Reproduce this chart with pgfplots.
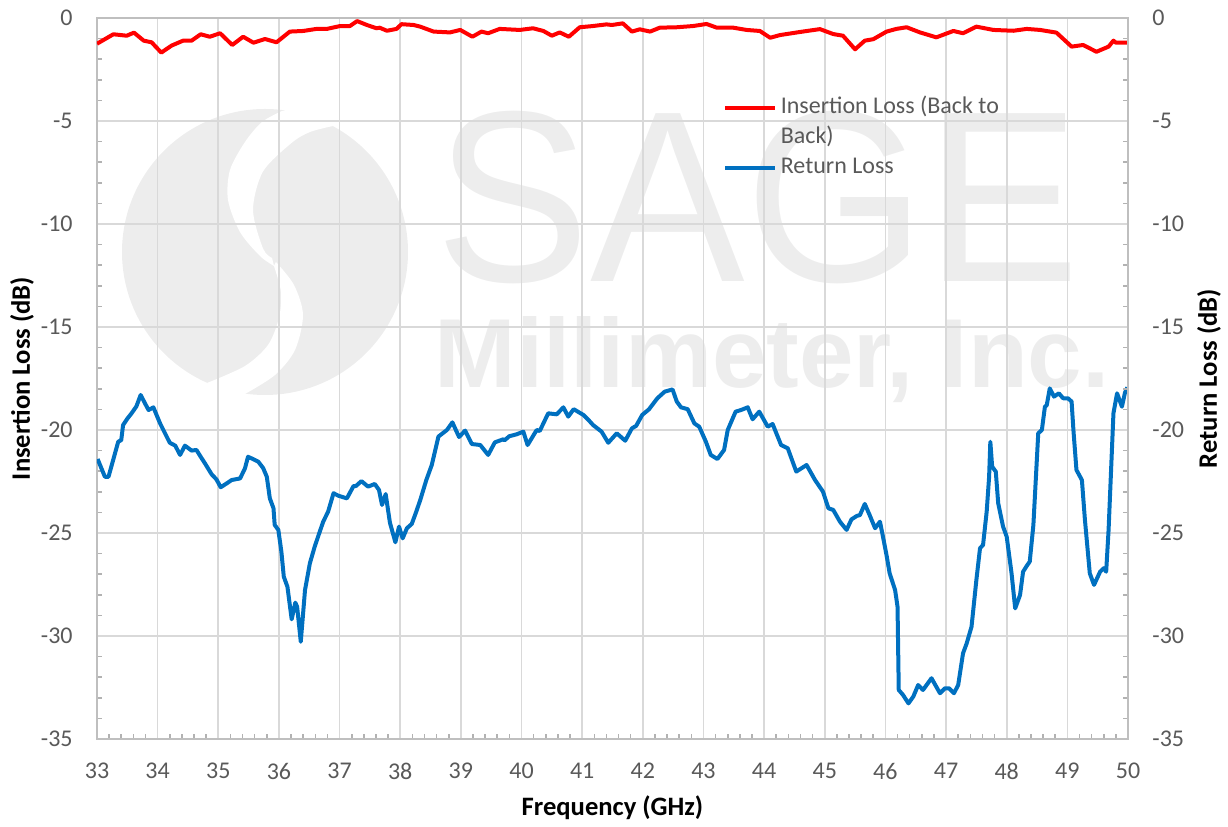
\documentclass[border=0pt]{standalone}
\usepackage{pgfplots}
\pgfplotsset{compat=1.18}
\usepackage{pgfplotstable}
\usepackage{fontspec}
\setmainfont{Carlito}
\newfontfamily\wmfont{Liberation Sans}
\definecolor{ilred}{HTML}{FF0000}
\definecolor{rlblue}{HTML}{0070C0}
\definecolor{tickgray}{HTML}{595959}
\definecolor{wm}{HTML}{EDEDED}

\pgfplotstableread{
f v
33.00 -1.25
33.27 -0.79
33.49 -0.86
33.61 -0.71
33.77 -1.10
33.90 -1.18
34.06 -1.68
34.23 -1.34
34.42 -1.10
34.56 -1.10
34.71 -0.79
34.86 -0.91
35.03 -0.74
35.23 -1.31
35.41 -0.91
35.58 -1.20
35.77 -1.02
35.96 -1.18
36.18 -0.66
36.40 -0.63
36.62 -0.53
36.79 -0.53
37.01 -0.39
37.17 -0.39
37.29 -0.15
37.45 -0.34
37.61 -0.50
37.66 -0.47
37.78 -0.62
37.94 -0.53
38.02 -0.30
38.22 -0.34
38.33 -0.42
38.55 -0.66
38.82 -0.70
38.99 -0.58
39.19 -0.91
39.34 -0.66
39.45 -0.74
39.64 -0.53
39.97 -0.58
40.19 -0.50
40.36 -0.63
40.50 -0.86
40.63 -0.70
40.78 -0.91
40.96 -0.45
41.18 -0.39
41.40 -0.31
41.49 -0.34
41.67 -0.26
41.82 -0.66
41.95 -0.55
42.12 -0.66
42.28 -0.47
42.56 -0.45
42.83 -0.39
43.05 -0.29
43.22 -0.47
43.49 -0.47
43.71 -0.58
43.93 -0.63
44.10 -0.96
44.26 -0.83
44.59 -0.68
44.92 -0.54
45.14 -0.78
45.30 -0.86
45.50 -1.52
45.66 -1.10
45.80 -1.03
46.02 -0.66
46.18 -0.53
46.35 -0.45
46.57 -0.70
46.84 -0.94
47.12 -0.63
47.28 -0.74
47.50 -0.42
47.78 -0.58
48.11 -0.62
48.33 -0.53
48.55 -0.58
48.82 -0.71
49.07 -1.39
49.26 -1.31
49.48 -1.64
49.68 -1.39
49.76 -1.10
49.80 -1.20
49.99 -1.20
}\ILtable

\pgfplotstableread{
f v
33.01 -21.41
33.13 -22.27
33.19 -22.27
33.35 -20.57
33.40 -20.49
33.43 -19.76
33.50 -19.45
33.57 -19.19
33.65 -18.85
33.72 -18.30
33.79 -18.70
33.85 -19.03
33.93 -18.90
34.04 -19.68
34.12 -20.15
34.20 -20.62
34.29 -20.76
34.37 -21.21
34.45 -20.76
34.56 -21.00
34.64 -20.97
34.71 -21.30
34.78 -21.62
34.89 -22.15
34.97 -22.40
35.04 -22.78
35.14 -22.59
35.22 -22.43
35.36 -22.35
35.44 -21.86
35.49 -21.30
35.58 -21.42
35.66 -21.54
35.74 -21.85
35.80 -22.27
35.85 -23.32
35.91 -23.80
35.93 -24.61
35.99 -24.85
36.04 -25.90
36.08 -27.12
36.14 -27.61
36.21 -29.19
36.27 -28.38
36.30 -28.58
36.36 -30.28
36.43 -27.77
36.51 -26.47
36.59 -25.66
36.66 -25.05
36.73 -24.45
36.81 -23.97
36.90 -23.07
36.98 -23.19
37.12 -23.32
37.23 -22.72
37.27 -22.72
37.36 -22.48
37.47 -22.75
37.58 -22.62
37.65 -22.91
37.70 -23.64
37.76 -23.11
37.83 -24.50
37.92 -25.45
37.98 -24.69
38.04 -25.26
38.11 -24.77
38.19 -24.56
38.26 -24.00
38.33 -23.40
38.43 -22.43
38.52 -21.70
38.63 -20.32
38.77 -20.00
38.86 -19.63
38.97 -20.34
39.07 -20.03
39.18 -20.68
39.32 -20.73
39.45 -21.21
39.56 -20.60
39.70 -20.45
39.72 -20.50
39.80 -20.30
39.92 -20.21
40.03 -20.08
40.10 -20.73
40.25 -20.00
40.30 -20.05
40.44 -19.19
40.58 -19.24
40.69 -18.90
40.77 -19.35
40.86 -18.99
41.02 -19.27
41.10 -19.50
41.18 -19.76
41.32 -20.08
41.43 -20.62
41.57 -20.16
41.71 -20.52
41.82 -19.92
41.89 -19.80
41.99 -19.27
42.10 -19.00
42.24 -18.46
42.36 -18.14
42.49 -18.03
42.56 -18.62
42.63 -18.90
42.74 -18.99
42.85 -19.68
42.93 -19.84
43.04 -20.57
43.12 -21.21
43.23 -21.41
43.34 -20.97
43.40 -20.00
43.53 -19.11
43.62 -19.03
43.73 -18.90
43.81 -19.48
43.92 -19.11
44.06 -19.84
44.14 -19.71
44.28 -20.73
44.39 -20.89
44.53 -22.02
44.70 -21.70
44.84 -22.43
44.97 -22.99
45.06 -23.80
45.14 -23.88
45.25 -24.45
45.36 -24.85
45.44 -24.34
45.53 -24.17
45.58 -24.13
45.66 -23.59
45.74 -24.13
45.83 -24.77
45.91 -24.45
45.96 -25.18
46.02 -26.10
46.07 -26.96
46.16 -27.77
46.20 -28.58
46.22 -32.62
46.29 -32.86
46.38 -33.27
46.46 -32.94
46.54 -32.38
46.62 -32.62
46.76 -32.05
46.90 -32.78
46.98 -32.54
47.05 -32.54
47.13 -32.78
47.20 -32.38
47.28 -30.84
47.34 -30.36
47.42 -29.55
47.50 -27.28
47.56 -25.74
47.61 -25.58
47.67 -23.96
47.71 -22.27
47.73 -20.57
47.76 -21.78
47.82 -22.02
47.86 -23.56
47.94 -24.69
48.00 -25.18
48.08 -26.96
48.14 -28.66
48.22 -28.01
48.27 -26.88
48.33 -26.60
48.38 -26.39
48.44 -24.61
48.52 -20.16
48.58 -20.00
48.63 -18.87
48.66 -18.80
48.71 -17.98
48.78 -18.38
48.86 -18.22
48.93 -18.46
49.01 -18.46
49.07 -18.62
49.10 -20.00
49.15 -21.94
49.24 -22.43
49.29 -24.37
49.37 -26.96
49.44 -27.52
49.54 -26.88
49.60 -26.71
49.64 -26.88
49.68 -24.85
49.76 -19.19
49.82 -18.22
49.90 -18.87
49.95 -18.19
49.99 -17.93
}\RLtable

\begin{document}
\begin{tikzpicture}
% watermark (behind grid)
\fill[wm] (84pt,243.5pt) circle (71.5pt);
\fill[white] plot[smooth] coordinates {(92.5pt,314pt) (82.5pt,308.5pt) (74pt,298.5pt) (66.5pt,284.5pt) (65.5pt,269.5pt) (71.5pt,253.5pt) (81.5pt,241.5pt) (88.5pt,236.5pt)}
  -- plot[smooth] coordinates {(87.5pt,240.5pt) (83pt,245.25pt) (78pt,264.5pt) (83pt,283.75pt) (97.25pt,298pt) (106.5pt,303.5pt) (118pt,306.5pt)} -- (110pt,318pt) -- cycle;
\fill[white] plot[smooth] coordinates {(88.5pt,236.5pt) (92pt,223.5pt) (91pt,210.5pt) (85.5pt,197pt) (74pt,186.5pt) (55pt,178pt)}
  -- (60pt,168pt) -- plot[smooth] coordinates {(74pt,172.5pt) (89pt,182pt) (99pt,194.5pt) (103pt,212pt) (98.5pt,227pt) (89.5pt,238.5pt)} -- cycle;
\node[anchor=base west, inner sep=0pt, text=wm, xscale=0.95, font=\wmfont\fontsize{122}{122}\selectfont] at (169.3pt,228.5pt) {SAGE};
\node[anchor=base west, inner sep=0pt, text=wm, font=\wmfont\bfseries\fontsize{49}{49}\selectfont] at (168.5pt,175.5pt) {Millimeter, Inc.};
\begin{axis}[
  name=main,
  scale only axis, width=515.5pt, height=360.5pt,
  xmin=33, xmax=50, ymin=-35, ymax=0,
  xtick={33,...,50}, ytick={-35,-30,...,0},
  minor x tick num=4, minor y tick num=4,
  tick pos=left, tick align=inside,
  major tick length=0pt, minor tick length=2.5pt,
  tick style={color=black!30, line width=0.8pt},
  grid=major, major grid style={color=black!15, line width=0.8pt},
  axis line style={color=black!25, line width=0.8pt},
  /pgf/number format/assume math mode=true,
  tick label style={font=\fontsize{12}{14}\selectfont, text=tickgray},
  xticklabel style={inner sep=0pt, anchor=north, yshift=-12pt},
  yticklabel style={inner sep=0pt, anchor=east, xshift=-12pt},
  xlabel={Frequency (GHz)}, ylabel={Insertion Loss (dB)},
  label style={font=\bfseries\fontsize{13.3}{16}\selectfont, text=black},
  xlabel style={at={(axis description cs:0.5,-0.0957)}, anchor=center},
  ylabel style={at={(axis description cs:-0.0727,0.5)}, anchor=center},
  legend image code/.code={\draw[#1] (0pt,0pt) -- (25pt,0pt);},
  legend cell align=left,
  legend style={at={(0.607,0.891)}, anchor=north west, draw=none, fill=none,
    inner sep=0pt, row sep=4pt, column sep=1.8pt,
    font=\fontsize{12}{14}\selectfont, text=tickgray,
    nodes={inner sep=0pt, text height=8.2pt, text depth=2.8pt}},
]
\addplot[color=ilred, line width=2pt, line join=round] table[x=f,y=v] {\ILtable};
\addlegendentry{Insertion Loss (Back to}
\addlegendimage{empty legend}
\addlegendentry{Back)}
\addplot[color=rlblue, line width=2pt, line join=round] table[x=f,y=v] {\RLtable};
\addlegendentry{Return Loss}
\end{axis}

\begin{axis}[
  scale only axis, width=515.5pt, height=360.5pt,
  xmin=33, xmax=50, ymin=-35, ymax=0,
  axis x line=none, axis y line*=right,
  ytick={-35,-30,...,0}, minor y tick num=4,
  tick align=inside, major tick length=0pt, minor tick length=2.5pt,
  tick style={color=black!30, line width=0.8pt},
  axis line style={color=black!25, line width=0.8pt},
  /pgf/number format/assume math mode=true,
  tick label style={font=\fontsize{12}{14}\selectfont, text=tickgray},
  yticklabel style={inner sep=0pt, anchor=west, xshift=12pt},
  ylabel={Return Loss (dB)},
  label style={font=\bfseries\fontsize{13.3}{16}\selectfont, text=black},
  ylabel style={at={(axis description cs:1.0786,0.5)}, anchor=center},
]
\end{axis}
\path (-48.5pt,-43pt) rectangle (565.5pt,369.5pt);
\end{tikzpicture}
\end{document}
